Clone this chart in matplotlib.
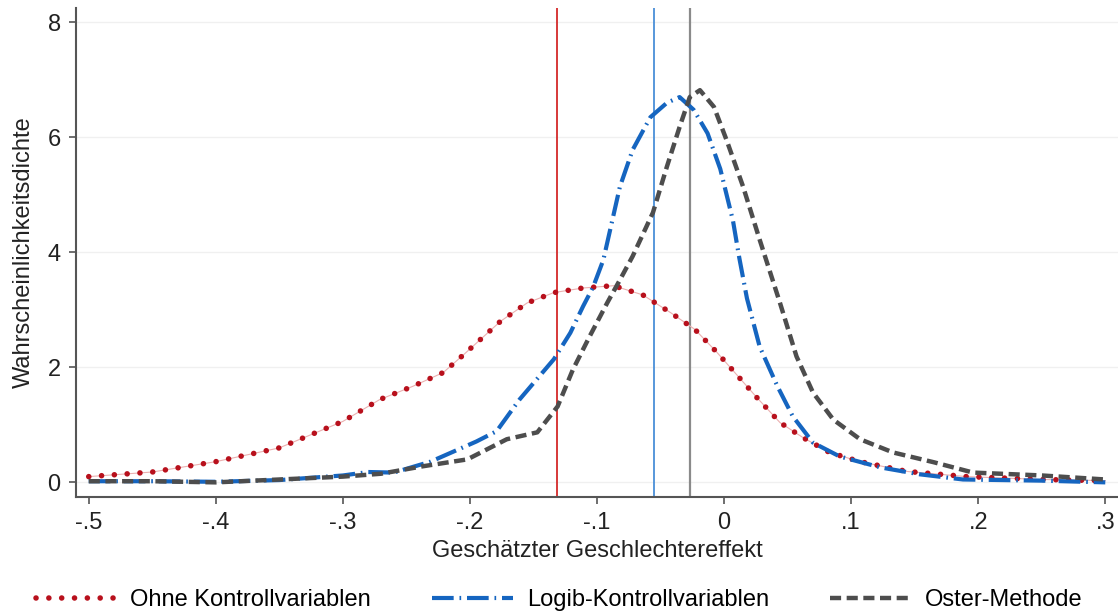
import matplotlib
matplotlib.use("Agg")
import matplotlib.pyplot as plt

plt.rcParams['font.family'] = ['Liberation Sans', 'DejaVu Sans']

# Dichtekurven
ohne_x = [-0.5, -0.45, -0.4, -0.35, -0.3, -0.271, -0.245, -0.221, -0.205, -0.192, -0.176, -0.155,
          -0.134, -0.111, -0.087, -0.064, -0.042, -0.023, -0.006, 0.01, 0.026, 0.044, 0.062, 0.083,
          0.107, 0.144, 0.191, 0.25, 0.3]
ohne_y = [0.1, 0.18, 0.36, 0.6, 1.06, 1.44, 1.67, 1.91, 2.22, 2.48, 2.8, 3.12,
          3.3, 3.38, 3.42, 3.26, 2.95, 2.66, 2.27, 1.87, 1.47, 1.04, 0.78, 0.52,
          0.36, 0.19, 0.1, 0.05, 0.03]

logib_x = [-0.5, -0.45, -0.4, -0.35, -0.3, -0.28, -0.26, -0.231, -0.195, -0.179, -0.161, -0.134,
           -0.121, -0.111, -0.103, -0.095, -0.082, -0.072, -0.058, -0.045, -0.035, -0.024, -0.013,
           -0.003, 0.007, 0.012, 0.018, 0.028, 0.042, 0.054, 0.07, 0.091, 0.123, 0.154, 0.188,
           0.25, 0.3]
logib_y = [0.02, 0.02, 0.01, 0.04, 0.12, 0.18, 0.17, 0.36, 0.71, 0.89, 1.44, 2.14,
           2.6, 3.06, 3.4, 3.87, 5.14, 5.78, 6.35, 6.6, 6.7, 6.48, 6.07,
           5.45, 4.55, 3.9, 3.2, 2.36, 1.67, 1.15, 0.69, 0.45, 0.26, 0.14, 0.05,
           0.03, 0.0]

oster_x = [-0.5, -0.45, -0.4, -0.35, -0.3, -0.27, -0.237, -0.202, -0.171, -0.147, -0.131, -0.119,
           -0.106, -0.092, -0.082, -0.072, -0.056, -0.045, -0.035, -0.027, -0.019, -0.008, 0.002,
           0.015, 0.028, 0.044, 0.057, 0.07, 0.086, 0.107, 0.133, 0.165, 0.196, 0.25, 0.3]
oster_y = [0.02, 0.02, 0.0, 0.05, 0.1, 0.15, 0.28, 0.4, 0.75, 0.87, 1.32, 1.96,
           2.53, 3.12, 3.52, 3.93, 4.69, 5.49, 6.18, 6.7, 6.82, 6.53, 5.95,
           5.14, 4.22, 3.12, 2.19, 1.56, 1.09, 0.75, 0.52, 0.35, 0.17, 0.12, 0.05]

# Punktschaetzer (vertikale Linien)
schaetzer = [-0.1315, -0.055, -0.027]

labels = ['Ohne Kontrollvariablen', 'Logib-Kontrollvariablen', 'Oster-Methode']
xticks = [-0.5, -0.4, -0.3, -0.2, -0.1, 0, 0.1, 0.2, 0.3]
xticklabels = ['-.5', '-.4', '-.3', '-.2', '-.1', '0', '.1', '.2', '.3']
yticks = [0, 2, 4, 6, 8]

rot = '#B8101C'
blau = '#1565C0'
grau = '#4D4D4D'
fs = 17

fig = plt.figure(figsize=(11.18, 6.11), dpi=100)
ax = fig.add_axes([0.068, 0.187, 0.932, 0.8])

for y in yticks:
    ax.axhline(y, color='#F0F0F0', lw=1, zorder=0)

ax.axvline(schaetzer[0], color='#D42A2A', lw=1.3, zorder=1)
ax.axvline(schaetzer[1], color='#4A8FD8', lw=1.3, zorder=1)
ax.axvline(schaetzer[2], color='#8A8A8A', lw=1.6, zorder=1)

# duenne Hilfslinie unter den Punkten
ax.plot(ohne_x, ohne_y, color='#EBB0B0', lw=0.8, zorder=2)
l1, = ax.plot(ohne_x, ohne_y, color=rot, lw=4.0, linestyle=(0, (0.01, 2.3)),
              dash_capstyle='round', zorder=3, label=labels[0])
l2, = ax.plot(logib_x, logib_y, color=blau, lw=3.0, linestyle=(0, (5.2, 1.4, 0.4, 1.4)),
              zorder=3, label=labels[1])
l3, = ax.plot(oster_x, oster_y, color=grau, lw=3.2, linestyle=(0, (2.5, 1.25)),
              zorder=4, label=labels[2])

ax.set_xlim(-0.51, 0.31)
ax.set_ylim(-0.25, 8.25)
ax.set_xticks(xticks)
ax.set_xticklabels(xticklabels)
ax.set_yticks(yticks)

for s in ['top', 'right']:
    ax.spines[s].set_visible(False)
for s in ['left', 'bottom']:
    ax.spines[s].set_color('#555555')
    ax.spines[s].set_linewidth(1.5)
ax.tick_params(direction='out', length=5, width=1.2, color='#555555', labelsize=fs,
               labelcolor='#222222', pad=6)

ax.set_xlabel('Geschätzter Geschlechtereffekt', fontsize=fs, color='#222222', labelpad=4)
ax.set_ylabel('Wahrscheinlichkeitsdichte', fontsize=fs, color='#222222', labelpad=9)

fig.legend(handles=[l1, l2, l3], loc='lower center', bbox_to_anchor=(0.5, -0.035), ncol=3,
           frameon=False, fontsize=fs, handlelength=3.4, handletextpad=0.6, columnspacing=2.6)

fig.savefig('out.png', dpi=100)
